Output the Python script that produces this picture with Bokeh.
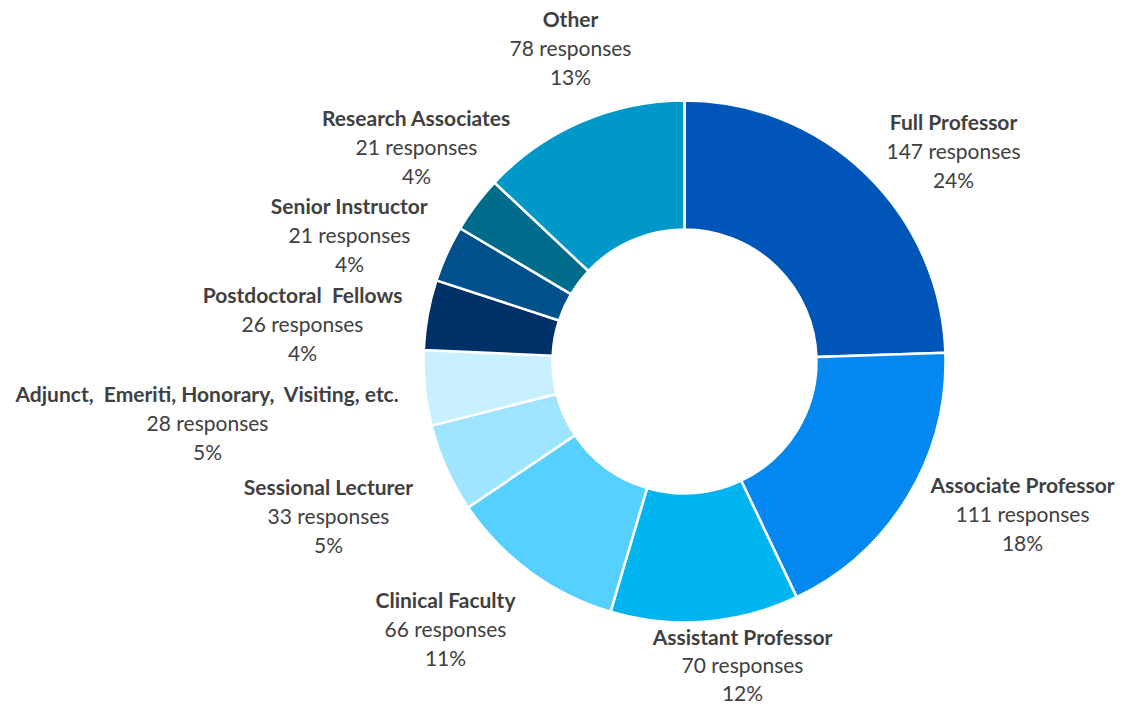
import math
from bokeh.plotting import figure
from bokeh.models import ColumnDataSource, Range1d
from bokeh.core.properties import value
from bokeh.embed import file_html
from bokeh.resources import INLINE

# ---- data (clockwise from top) ----
categories = ["Full Professor", "Associate Professor", "Assistant Professor",
              "Clinical Faculty", "Sessional Lecturer",
              "Adjunct,\u00a0 Emeriti, Honorary,\u00a0 Visiting, etc.",
              "Postdoctoral\u00a0 Fellows", "Senior Instructor",
              "Research Associates", "Other"]
responses = [147, 111, 70, 66, 33, 28, 26, 21, 21, 78]
percent_labels = ["24%", "18%", "12%", "11%", "5%", "5%", "4%", "4%", "4%", "13%"]
colors = ["#0055B8", "#0288F0", "#00B4F2", "#55D0FF", "#A0E5FF",
          "#C8F0FF", "#003068", "#00508C", "#006C8C", "#0097C9"]

# ---- layout (screen pixel positions of each label's first line) ----
label_x = [953, 1022, 742, 445, 328, 207, 302, 349, 416, 570]
label_y = [121, 484, 636, 599, 486, 393, 294, 205, 117, 18]
line_gap = [29, 29, 28, 29, 29, 29, 29, 29, 29, 29]

W, H = 1115, 709
TOP = 725

total = sum(responses)
starts, ends = [], []
acc = 0.0
for v in responses:
    starts.append(math.pi / 2 - 2 * math.pi * acc / total)
    acc += v
    ends.append(math.pi / 2 - 2 * math.pi * acc / total)

src = ColumnDataSource(dict(cat=categories, v=responses, color=colors,
                            start=starts, end=ends))

p = figure(width=W, height=H, output_backend="svg", toolbar_location=None,
           x_range=Range1d(0, W), y_range=Range1d(TOP - H, TOP),
           min_border=0)
p.axis.visible = False
p.grid.visible = False
p.outline_line_color = None
p.background_fill_color = "white"

cx, cy = 684, TOP - 361
p.annular_wedge(x=cx, y=cy, inner_radius=132, outer_radius=261,
                start_angle="start", end_angle="end", direction="clock",
                fill_color="color", line_color="white", line_width=2.5,
                source=src)

ys1 = [TOP - y for y in label_y]
ys2 = [TOP - y - g for y, g in zip(label_y, line_gap)]
ys3 = [TOP - y - 2 * g for y, g in zip(label_y, line_gap)]
lab = ColumnDataSource(dict(
    x=label_x, y1=ys1, y2=ys2, y3=ys3, name=categories,
    resp=[f"{v} responses" for v in responses], pct=percent_labels))

font = value("Lato")
p.text(x="x", y="y1", text="name", source=lab, text_font=font,
       text_font_style="bold", text_font_size="21px", text_color="#404040",
       text_align="center", text_baseline="middle")
p.text(x="x", y="y2", text="resp", source=lab, text_font=font,
       text_font_size="21px", text_color="#404040",
       text_align="center", text_baseline="middle")
p.text(x="x", y="y3", text="pct", source=lab, text_font=font,
       text_font_size="21px", text_color="#404040",
       text_align="center", text_baseline="middle")

open("out.html", "w").write(file_html(p, INLINE))
